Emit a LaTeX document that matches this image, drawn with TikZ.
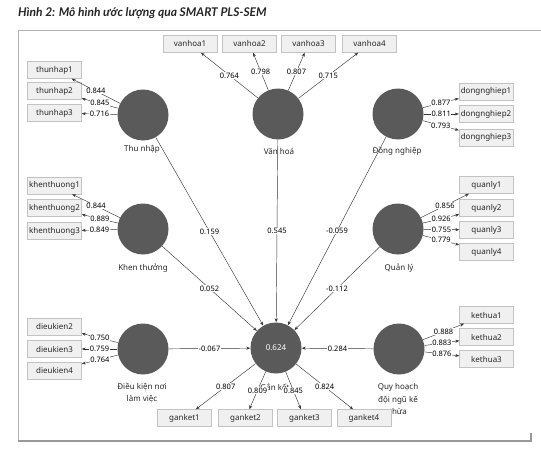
\documentclass[tikz,border=0pt]{standalone}
\usepackage{fontspec}
\setmainfont{Noto Sans}
\newfontfamily\titlefont{Lato}
\usetikzlibrary{arrows.meta}
\definecolor{latent}{RGB}{90,90,90}
\definecolor{boxfill}{RGB}{240,240,240}
\definecolor{boxline}{RGB}{195,195,195}
\definecolor{pathline}{RGB}{55,55,55}

\begin{document}
\begin{tikzpicture}[x=1pt, y=-1pt,
    lv/.style={circle, fill=latent, minimum size=51pt, inner sep=0pt, text=white, font=\fontsize{8}{9}\selectfont},
    mv/.style={draw=boxline, fill=boxfill, minimum width=54pt, minimum height=17pt, inner sep=1pt, font=\fontsize{8}{9}\selectfont, text=black!85},
    lvname/.style={font=\fontsize{8}{12.5}\selectfont, align=center, text=black!85, inner sep=0pt},
    coef/.style={fill=white, inner sep=0.6pt, font=\fontsize{7.5}{8}\selectfont},
    arr/.style={draw=pathline, line width=0.45pt, -{Stealth[length=4pt, width=3pt]}}]
    \useasboundingbox (0,0) rectangle (541,452);

    % Title and frame
    \node[anchor=west, inner sep=0pt, text=black!85, font=\titlefont\fontsize{12}{13}\selectfont\bfseries\itshape] (title) at (18,13) {Hình 2: Mô hình ước lượng qua SMART PLS-SEM};
    \draw[gray!60, line width=0.5pt] (541,30) -- (18,30) -- (18,441);
    \draw[gray!80, line width=1.2pt] (18,441) -- (531,441) -- (531,433);

    % Latent variables
    \node[lv] (thunhap) at (143,115) {};
    \node[lv] (vanhoa) at (278,114) {};
    \node[lv] (dongnghiep) at (398,114) {};
    \node[lv] (khenthuong) at (143,229) {};
    \node[lv] (quanly) at (398,229) {};
    \node[lv] (dieukien) at (143,349) {};
    \node[lv] (ganket) at (276,348) {0.624};
    \node[lv] (kethua) at (399,349) {};

    \node[lvname] (thunhaptxt) at (142,149) {Thu nhập};
    \node[lvname] (vanhoatxt) at (279,151) {Văn hoá};
    \node[lvname] (dongnghieptxt) at (397,151) {Đồng nghiệp};
    \node[lvname] (khenthuongtxt) at (143,268) {Khen thưởng};
    \node[lvname] (quanlytxt) at (399,268) {Quản lý};
    \node[lvname] (dieukientxt) at (142,393) {Điều kiện nơi\\làm việc};
    \node[lvname] (gankettxt) at (275,387) {Gắn kết};
    \node[lvname] (kethuatxt) at (398,399) {Quy hoạch\\đội ngũ kế\\thừa};

    % Indicators
    \foreach \i/\y in {1/70, 2/91, 3/113}
        \node[mv] (thunhap\i) at (54.5,\y) {thunhap\i};
    \foreach \i/\x in {1/190, 2/249.5, 3/308.5, 4/369.5}
        \node[mv] (vanhoa\i) at (\x,44) {vanhoa\i};
    \foreach \i/\y in {1/91.5, 2/114, 3/137.5}
        \node[mv] (dongnghiep\i) at (486,\y) {dongnghiep\i};
    \foreach \i/\y in {1/185.5, 2/208, 3/231}
        \node[mv] (khenthuong\i) at (54.5,\y) {khenthuong\i};
    \foreach \i/\y in {1/185, 2/208, 3/230, 4/252}
        \node[mv] (quanly\i) at (486.5,\y) {quanly\i};
    \foreach \i/\y in {2/326.5, 3/349, 4/370.5}
        \node[mv] (dieukien\i) at (54.5,\y) {dieukien\i};
    \foreach \i/\y in {1/315, 2/337, 3/359}
        \node[mv] (kethua\i) at (486.5,\y) {kethua\i};
    \foreach \i/\x in {1/184.5, 2/245.5, 3/304.5, 4/364}
        \node[mv] (ganket\i) at (\x,418) {ganket\i};

    % Outer loadings
    \foreach \i/\v in {1/0.844, 2/0.845, 3/0.716}
        \draw[arr] (thunhap) -- node[coef] {\v} (thunhap\i);
    \foreach \i/\v in {1/0.764, 2/0.798, 3/0.807, 4/0.715}
        \draw[arr] (vanhoa) -- node[coef] {\v} (vanhoa\i);
    \foreach \i/\v in {1/0.877, 2/0.811, 3/0.793}
        \draw[arr] (dongnghiep) -- node[coef] {\v} (dongnghiep\i);
    \foreach \i/\v in {1/0.844, 2/0.889, 3/0.849}
        \draw[arr] (khenthuong) -- node[coef] {\v} (khenthuong\i);
    \foreach \i/\v in {1/0.856, 2/0.926, 3/0.755, 4/0.779}
        \draw[arr] (quanly) -- node[coef] {\v} (quanly\i);
    \foreach \i/\v in {2/0.750, 3/0.759, 4/0.764}
        \draw[arr] (dieukien) -- node[coef] {\v} (dieukien\i);
    \foreach \i/\v in {1/0.888, 2/0.883, 3/0.876}
        \draw[arr] (kethua) -- node[coef] {\v} (kethua\i);
    \foreach \i/\v in {1/0.807, 2/0.809, 3/0.845, 4/0.824}
        \draw[arr] (ganket) -- node[coef] {\v} (ganket\i);

    % Path coefficients
    \foreach \s/\v in {thunhap/0.159, vanhoa/0.545, dongnghiep/-0.059, khenthuong/0.052,
                       quanly/-0.112, dieukien/-0.067, kethua/0.284}
        \draw[arr] (\s) -- node[coef] {\v} (ganket);
\end{tikzpicture}
\end{document}
